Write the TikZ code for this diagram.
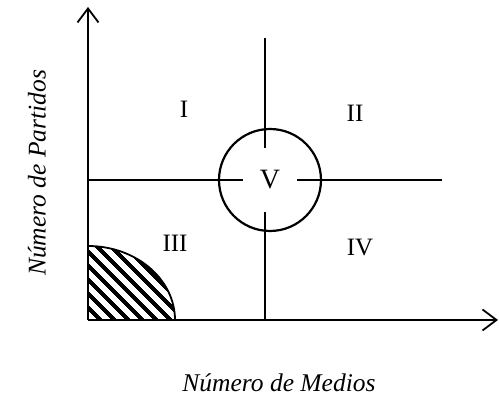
\documentclass[tikz,border=0pt]{standalone}
\usepackage{fontspec}
\setmainfont{Liberation Serif}
\usepackage{tikz}
\usetikzlibrary{arrows.meta,positioning,patterns.meta}

\begin{document}
\begin{tikzpicture}[
    x=1pt, y=1pt,
    every node/.style={font=\fontsize{25}{28}\selectfont},
    axis/.style={line width=1.8pt, -{Straight Barb[length=14pt, width=21pt, line width=1.8pt]}},
    quad/.style={line width=1.5pt},
    lbl/.style={font=\fontsize{25.5}{28}\selectfont\itshape},
  ]
  \useasboundingbox (0,0) rectangle (499,396);

  % ── Coordinates ──────────────────────────────────────────────────────────

  \coordinate (O)    at ( 88,  76);
  \coordinate (ytip) at ( 88, 389);
  \coordinate (xtip) at (498,  76);
  \coordinate (hl)   at ( 88, 216);
  \coordinate (hr)   at (442, 216);
  \coordinate (vt)   at (265, 358);
  \coordinate (vb)   at (265,  76);

  % ── Hatched corner ───────────────────────────────────────────────────────

  \fill[pattern={Lines[angle=-45, distance=10.5pt, line width=4.4pt]}]
    (O) -- ++(0,74) arc[start angle=90, end angle=0, x radius=87, y radius=74] -- cycle;
  \draw[line width=1.8pt] (O) ++(0,74) arc[start angle=90, end angle=0, x radius=87, y radius=74];

  % ── Quadrant lines ───────────────────────────────────────────────────────

  \node[minimum width=54pt, minimum height=64pt, inner sep=0pt,
        font=\fontsize{28}{30}\selectfont] (V) at (270, 216) {V};

  \draw[quad] (hl) -- (V.west);
  \draw[quad] (V.east) -- (hr);
  \draw[quad] (vt) -- (vt |- V.north);
  \draw[quad] (V.south -| vb) -- (vb);

  \draw[line width=2.2pt] (V.center) circle[radius=51];

  % ── Axes ─────────────────────────────────────────────────────────────────

  \draw[axis] (O) -- (ytip);
  \draw[axis] (O) -- (xtip);

  % ── Labels ───────────────────────────────────────────────────────────────

  \node (q1) at (184, 287) {I};
  \node (q2) at (355, 283) {II};
  \node (q3) at (175, 153) {III};
  \node (q4) at (360, 148) {IV};

  \node[lbl] (xlab) at (279, 13) {Número de Medios};
  \node[lbl, rotate=90] (ylab) at (37, 223) {Número de Partidos};

\end{tikzpicture}
\end{document}
